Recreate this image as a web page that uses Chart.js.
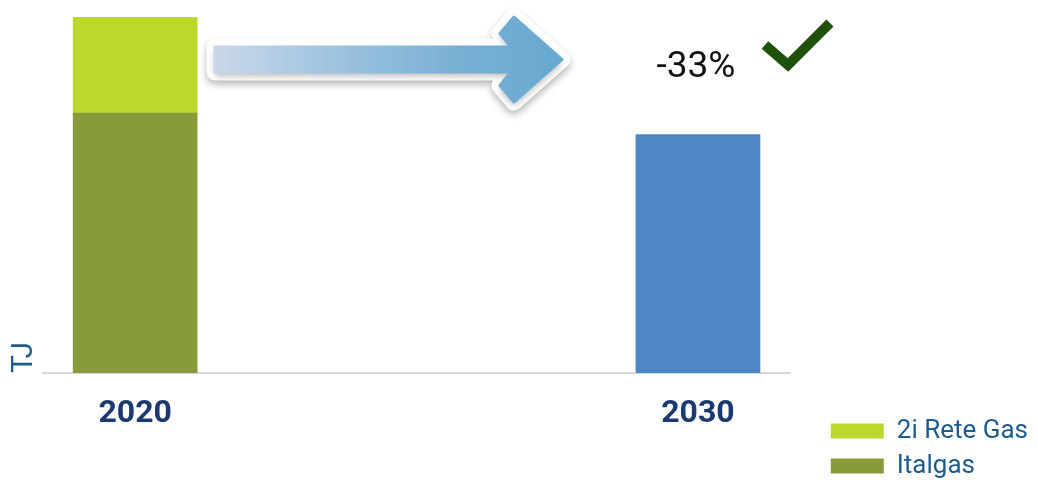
<!DOCTYPE html>
<html>
<head>
<meta charset="utf-8">
<script src="https://cdn.jsdelivr.net/npm/chart.js@4.4.1/dist/chart.umd.min.js"></script>
<style>
    html, body { margin: 0; padding: 0; background: #fff; }
    #wrap { width: 1038px; height: 488px; }
</style>
</head>
<body>
<div id="wrap"><canvas id="gasChart"></canvas></div>
<script>
//----------------------------- Data -----------------------------------
const years = [2020, 2030];
const italgas = [7.3, null];
const reteGas2i = [2.7, null];
const target2030 = [null, 6.7];

const total2020 = italgas[0] + reteGas2i[0];
const change = Math.round((target2030[1] / total2020 - 1) * 100);

const axisColor = '#1d5c8c';
const yearColor = '#1d3a70';

function points(values) {
    return years.map((yr, i) => ({ x: yr, y: values[i] }));
}

//----------------------------- Baseline, arrow, -33% and check mark -----------------------------------
const overlay = {
    id: 'overlay',
    beforeDatasetsDraw(chart) {
        const { ctx, chartArea, scales: { x, y } } = chart;
        // baseline runs as far past 2030 as it starts before 2020
        const left = chartArea.left;
        const right = x.getPixelForValue(years[1]) + (x.getPixelForValue(years[0]) - left);
        const y0 = y.getPixelForValue(0);
        ctx.save();
        ctx.strokeStyle = '#d9d9d9';
        ctx.lineWidth = 2;
        ctx.beginPath();
        ctx.moveTo(left, y0);
        ctx.lineTo(right, y0);
        ctx.stroke();
        ctx.restore();
    },
    afterDatasetsDraw(chart) {
        const { ctx, scales: { x, y } } = chart;
        const top = y.getPixelForValue(total2020);
        const x20 = x.getPixelForValue(years[0]);
        const x30 = x.getPixelForValue(years[1]);

        // arrow
        const x0 = x20 + 80, tip = x30 - 136, yc = top + 42.5;
        const pts = [
            [x0, yc - 12.5], [tip - 51, yc - 12.5], [tip - 62, yc - 26], [tip - 48, yc - 42.5],
            [tip, yc],
            [tip - 48, yc + 42.5], [tip - 62, yc + 26], [tip - 51, yc + 12.5], [x0, yc + 12.5]
        ];
        const path = () => {
            ctx.beginPath();
            pts.forEach(([px, py], i) => i ? ctx.lineTo(px, py) : ctx.moveTo(px, py));
            ctx.closePath();
        };
        ctx.save();
        ctx.lineJoin = 'round';
        ctx.shadowColor = 'rgba(0, 0, 0, 0.28)';
        ctx.shadowBlur = 7;
        ctx.shadowOffsetY = 4;
        path();
        ctx.strokeStyle = '#ffffff';
        ctx.fillStyle = '#ffffff';
        ctx.lineWidth = 17;
        ctx.stroke();
        ctx.fill();
        ctx.shadowColor = 'transparent';
        const grad = ctx.createLinearGradient(x0, 0, tip, 0);
        grad.addColorStop(0, '#cad7ea');
        grad.addColorStop(0.35, '#9dc3df');
        grad.addColorStop(0.7, '#79b0d4');
        grad.addColorStop(1, '#68a8cf');
        path();
        ctx.fillStyle = grad;
        ctx.strokeStyle = grad;
        ctx.lineWidth = 3;
        ctx.fill();
        ctx.stroke();
        ctx.restore();

        // percentage
        ctx.save();
        ctx.font = '37px Roboto';
        ctx.fillStyle = '#111111';
        ctx.textAlign = 'center';
        ctx.textBaseline = 'alphabetic';
        ctx.fillText(change + '%', x30 - 2, top + 60);
        ctx.restore();

        // check mark
        ctx.save();
        ctx.strokeStyle = '#1d5109';
        ctx.lineWidth = 10;
        ctx.lineJoin = 'miter';
        ctx.beginPath();
        ctx.moveTo(x30 + 67, top + 28);
        ctx.lineTo(x30 + 90, top + 48);
        ctx.lineTo(x30 + 132, top + 6);
        ctx.stroke();
        ctx.restore();
    }
};

//----------------------------- Chart -----------------------------------
const ctx = document.getElementById('gasChart');
const config = {
    type: 'bar',
    data: {
        datasets: [
            {
                label: 'Italgas',
                data: points(italgas),
                backgroundColor: '#889b3a',
                barThickness: 124
            },
            {
                label: '2i Rete Gas',
                data: points(reteGas2i),
                backgroundColor: '#bdd72f',
                barThickness: 124
            },
            {
                label: '2030',
                data: points(target2030),
                backgroundColor: '#4f86c6',
                barThickness: 124
            }
        ]
    },
    options: {
        responsive: true,
        maintainAspectRatio: false,
        animation: false,
        layout: {
            padding: { top: 17, right: 0, bottom: 0, left: 0 }
        },
        plugins: {
            tooltip: { enabled: false },
            legend: {
                position: 'right',
                align: 'end',
                reverse: true,
                labels: {
                    filter: item => item.datasetIndex !== 2,
                    boxWidth: 53,
                    boxHeight: 15,
                    padding: 9,
                    color: axisColor,
                    font: { family: 'Roboto', size: 26 }
                }
            }
        },
        scales: {
            x: {
                type: 'linear',
                stacked: true,
                offset: false,
                min: years[0] - 1.655,
                max: years[1] + 2.2,
                afterBuildTicks: scale => {
                    scale.ticks = years.map(v => ({ value: v }));
                },
                afterFit: scale => {
                    scale.height = 115;
                },
                grid: { display: false, drawTicks: false },
                border: { display: false },
                ticks: {
                    callback: v => String(v),
                    padding: 22,
                    color: yearColor,
                    font: { family: 'Roboto', size: 32, weight: 'bold' }
                }
            },
            y: {
                stacked: true,
                min: 0,
                max: total2020,
                grid: { display: false, drawTicks: false },
                border: { display: false },
                ticks: { display: false },
                title: {
                    display: true,
                    text: 'TJ',
                    align: 'start',
                    color: axisColor,
                    padding: { top: 6, bottom: 0 },
                    font: { family: 'Roboto', size: 30 }
                }
            }
        }
    },
    plugins: [overlay]
};
window.gasChartInstance = new Chart(ctx, config);
</script>
</body>
</html>
